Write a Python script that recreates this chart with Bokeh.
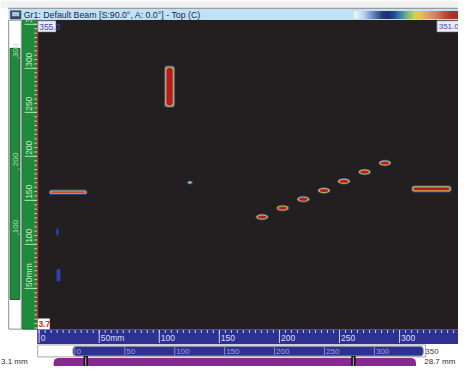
import numpy as np
from bokeh.plotting import figure
from bokeh.models import Range1d
from bokeh.embed import file_html
from bokeh.resources import INLINE
from bokeh.core.properties import value

# ---------------- data (mm) ----------------
title_text = "Gr1: Default Beam [S:90.0°, A: 0.0°] - Top (C)"
scan_x_max = 351.0
scan_y_min, scan_y_max = 3.7, 355.3

x_ticks = [0, 50, 100, 150, 200, 250, 300]
x_tick_labels = ["0", "50mm", "100", "150", "200", "250", "300"]
y_ticks = [50, 100, 150, 200, 250, 300, 350]
y_tick_labels = ["50mm", "100", "150", "200", "250", "300", "350"]
scroll_ticks = [0, 50, 100, 150, 200, 250, 300, 350]
scroll_labels = ["0", "50", "100", "150", "200", "250", "300", "350"]
outer_labels = ["300", "200", "100"]
gate_start_label, gate_end_label = "3.1 mm", "28.7 mm"

# aligned point-like reflectors
dot_x = [185.6, 202.7, 219.9, 237.1, 253.7, 270.9, 287.8]
dot_y = [131.1, 141.2, 151.4, 161.2, 171.7, 182.2, 192.4]
dot_w, dot_h = 10.8, 7.4

# elongated indications (left, right, bottom, top)
bar_left = [104.0, 8.0, 309.7]
bar_right = [113.2, 40.2, 343.5]
bar_bottom = [255.2, 156.4, 159.0]
bar_top = [303.1, 162.3, 167.2]

# weak (low amplitude) indications
weak_x = [15.3, 16.1, 125.5]
weak_y = [114.0, 65.0, 170.3]
weak_w = [2.2, 3.2, 4.8]
weak_h = [7.3, 14.0, 4.2]

# ---------------- layout ----------------
REF_W, REF_H = 474, 382
W, H = 458, 366
FONT = value("Liberation Sans")

X0_PX, KX = 40.0, (413.0 - 40.0) / 300.0
PLOT_T, PLOT_B = 20.0, 343.0
KY = (PLOT_B - PLOT_T) / (scan_y_max - scan_y_min)
S0_PX, KS = 77.0, (387.0 - 77.0) / 300.0

p = figure(width=W, height=H, x_range=Range1d(0, REF_W), y_range=Range1d(REF_H, 0),
           x_axis_type=None, y_axis_type=None, toolbar_location=None,
           output_backend="svg", min_border=0, title=None,
           outline_line_color=None, background_fill_color="white",
           border_fill_color="white")
p.extra_x_ranges = {
    "mmx": Range1d(-X0_PX / KX, (REF_W - X0_PX) / KX),
    "scroll": Range1d(-S0_PX / KS, (REF_W - S0_PX) / KS),
}
p.extra_y_ranges = {
    "mmy": Range1d(scan_y_min - (REF_H - PLOT_B) / KY, scan_y_max + PLOT_T / KY),
}


def box(l, r, t, b, fill, line=None, lw=1, radius=0):
    p.quad(left=[l], right=[r], top=[t], bottom=[b], fill_color=fill,
           line_color=line, line_width=lw, border_radius=radius)


def txt(x, y, s, size, color, align="left", angle=0, style="normal", **kw):
    p.text(x=x, y=y, text=s, text_font=FONT, text_font_size=size,
           text_color=color, text_align=align, text_baseline="middle",
           angle=angle, text_font_style=style, **kw)


# ---- dark scan area ----
box(38, REF_W, PLOT_T, PLOT_B, "#231f20")

# ---- weak indications ----
p.quad(left=[x - w / 2 for x, w in zip(weak_x[:2], weak_w[:2])],
       right=[x + w / 2 for x, w in zip(weak_x[:2], weak_w[:2])],
       bottom=[y - h / 2 for y, h in zip(weak_y[:2], weak_h[:2])],
       top=[y + h / 2 for y, h in zip(weak_y[:2], weak_h[:2])],
       fill_color="#2a40b4", line_color=None, border_radius=1,
       x_range_name="mmx", y_range_name="mmy")
p.ellipse(x=weak_x[2:], y=weak_y[2:], width=weak_w[2:], height=weak_h[2:],
          fill_color="#2a5cb8", line_color=None, x_range_name="mmx", y_range_name="mmy")
p.ellipse(x=weak_x[2:], y=weak_y[2:], width=[w * 0.55 for w in weak_w[2:]],
          height=[h * 0.55 for h in weak_h[2:]],
          fill_color="#e0d458", line_color=None, x_range_name="mmx", y_range_name="mmy")

# ---- elongated indications (layered amplitude rings) ----
layer_colors = ["#2c4e9c", "#b8c048", "#e07832", "#b21c26"]
layer_inset_px = [0.0, 1.0, 1.8, 2.6]
for col, ins in zip(layer_colors, layer_inset_px):
    dx, dy = ins / KX, ins / KY
    L = [l + dx for l in bar_left]
    R = [r - dx for r in bar_right]
    B = [b + dy for b in bar_bottom]
    T = [t - dy for t in bar_top]
    mid_y = [(b + t) / 2 for b, t in zip(bar_bottom, bar_top)]
    B = [min(b, m - 0.5) for b, m in zip(B, mid_y)]
    T = [max(t, m + 0.5) for t, m in zip(T, mid_y)]
    p.quad(left=L, right=R, bottom=B, top=T, fill_color=col, line_color=None,
           border_radius=3, x_range_name="mmx", y_range_name="mmy")

# ---- point reflectors ----
dot_layers = [("#3a6488", 1.0, 1.0), ("#d8b43c", 0.86, 0.76), ("#b41c28", 0.66, 0.48)]
for col, fw, fh in dot_layers:
    p.ellipse(x=dot_x, y=dot_y, width=dot_w * fw, height=dot_h * fh,
              fill_color=col, line_color=None, x_range_name="mmx", y_range_name="mmy")

# ---- inner (green) ruler ----
box(22.5, 38, PLOT_T, PLOT_B, "#1f8a3c", line="#176a2e")
minor_y = np.arange(5, 355, 5)
p.segment(x0=35, x1=38, y0=minor_y, y1=minor_y, line_color="#b8e2b8",
          line_width=1, y_range_name="mmy")
p.segment(x0=25, x1=38, y0=y_ticks, y1=y_ticks, line_color="#b8e2b8",
          line_width=1, y_range_name="mmy")
txt([29.5] * len(y_ticks), y_ticks, y_tick_labels, "8.5px", "#c8ecc8",
    angle=np.pi / 2, y_offset=-1.5, y_range_name="mmy")

# ---- outer ruler column ----
box(8.5, 21.5, 20.5, 343, "white", line="#8c8c8c")
box(10, 20, 50, 312, "#1f8a3c", line="#145a28")
txt([15.5, 15.5, 15.5], [52, 166, 236], outer_labels, "8px", "#b0deb0",
    align="center", angle=np.pi / 2)
p.segment(x0=[18, 18, 18], x1=[20.5, 20.5, 20.5], y0=[60, 176, 244],
          y1=[60, 176, 244], line_color="#a0a0a0")

# ---- red borders ----
p.segment(x0=[38.5, 38], x1=[38.5, REF_W], y0=[PLOT_T, 343.5], y1=[343.5, 343.5],
          line_color="#e01c24", line_width=1.2)

# ---- bottom ruler ----
box(38, REF_W, 344, 358.5, "#2e3192")
minor_x = np.arange(0, 350, 5)
p.segment(x0=minor_x, x1=minor_x, y0=344, y1=347, line_color="#d0d0f4",
          x_range_name="mmx")
p.segment(x0=x_ticks, x1=x_ticks, y0=344, y1=357.5, line_color="#d0d0f4",
          x_range_name="mmx")
txt(x_ticks, [352] * len(x_ticks), x_tick_labels, "8.5px", "#dcdcfa",
    x_offset=1.5, x_range_name="mmx")

# ---- scroll bar row ----
box(38.5, 440, 359.5, 372, "white", line="#a8a8a8")
box(75, 437.5, 361, 371, "#2e3192", line="#8a8aa8", radius=3)
p.segment(x0=scroll_ticks[:-1], x1=scroll_ticks[:-1], y0=361.5, y1=370.5,
          line_color="#8c8cb4", x_range_name="scroll")
txt(scroll_ticks[:-1], [366.3] * (len(scroll_ticks) - 1), scroll_labels[:-1],
    "8px", "#a4a4cc", x_offset=1.5, x_range_name="scroll")
txt(scroll_ticks[-1:], [366.3], scroll_labels[-1:], "8px", "#404040",
    x_offset=1.0, x_range_name="scroll")

# ---- gate slider row ----
box(55, 430, 373, 386, "#862a8e", radius=5)
box(86, 90.5, 371, 382, "#111111")
box(363, 367.5, 371, 382, "#111111")
p.segment(x0=[88.2, 365.2], x1=[88.2, 365.2], y0=[372, 372], y1=[382, 382],
          line_color="#b0b0b0")
txt([0.5], [376.8], [gate_start_label], "8px", "#303030")
txt([438.5], [376.8], [gate_end_label], "8px", "#303030")

# ---- value labels on the scan ----
box(39, 57, 21.5, 32.5, "#ececf6", line="#c8c8dc")
txt([40], [27.2], ["%.1f" % scan_y_max], "8.5px", "#3848b0")
box(452, REF_W, 21.5, 32.5, "#ececf6", line="#c8c8dc")
txt([453.5], [27.2], ["%.1f" % scan_x_max], "8px", "#3848b0")
box(38.5, 51, 332, 343, "white")
txt([39.2], [337.8], ["%.1f" % scan_y_min], "8.5px", "#e82020", style="bold")

# ---- title bar ----
box(0, REF_W, 0, 8, "#f2f2f2")
p.segment(x0=[8], x1=[REF_W], y0=[8.3], y1=[8.3], line_color="#9c9c9c", line_width=1.2)
box(8, REF_W, 9, 20, "#bfe2f6")
box(10, 21.5, 10.5, 19.5, "#3a4660")
box(12, 19.5, 12, 16.5, "#a8c4dc")
txt([24], [15], [title_text], "8.8px", "#1c1c48")

cb_pos = [0.0, 0.1, 0.2, 0.27, 0.35, 0.45, 0.52, 0.58, 0.64, 0.72, 0.82, 1.0]
cb_col = ["#f4f8fc", "#b8d0ea", "#4a68ac", "#1a2868", "#22348c", "#2e7aa0",
          "#7ab860", "#d8d040", "#e8c050", "#e09060", "#c86040", "#9c1c1c"]
rgb = np.array([[int(c[i:i + 2], 16) for i in (1, 3, 5)] for c in cb_col], float)
cb_l, cb_r = 366.0, REF_W
edges = np.linspace(cb_l, cb_r, 109)
cent = (edges[:-1] + edges[1:]) / 2
fr = (cent - cb_l) / (cb_r - cb_l)
cols = ["#%02x%02x%02x" % tuple(int(round(np.interp(f, cb_pos, rgb[:, k]))) for k in range(3))
        for f in fr]
p.quad(left=edges[:-1], right=edges[1:] + 0.3, top=11, bottom=19.2, fill_color=cols,
       line_color=None)

open("out.html", "w").write(file_html(p, INLINE))
